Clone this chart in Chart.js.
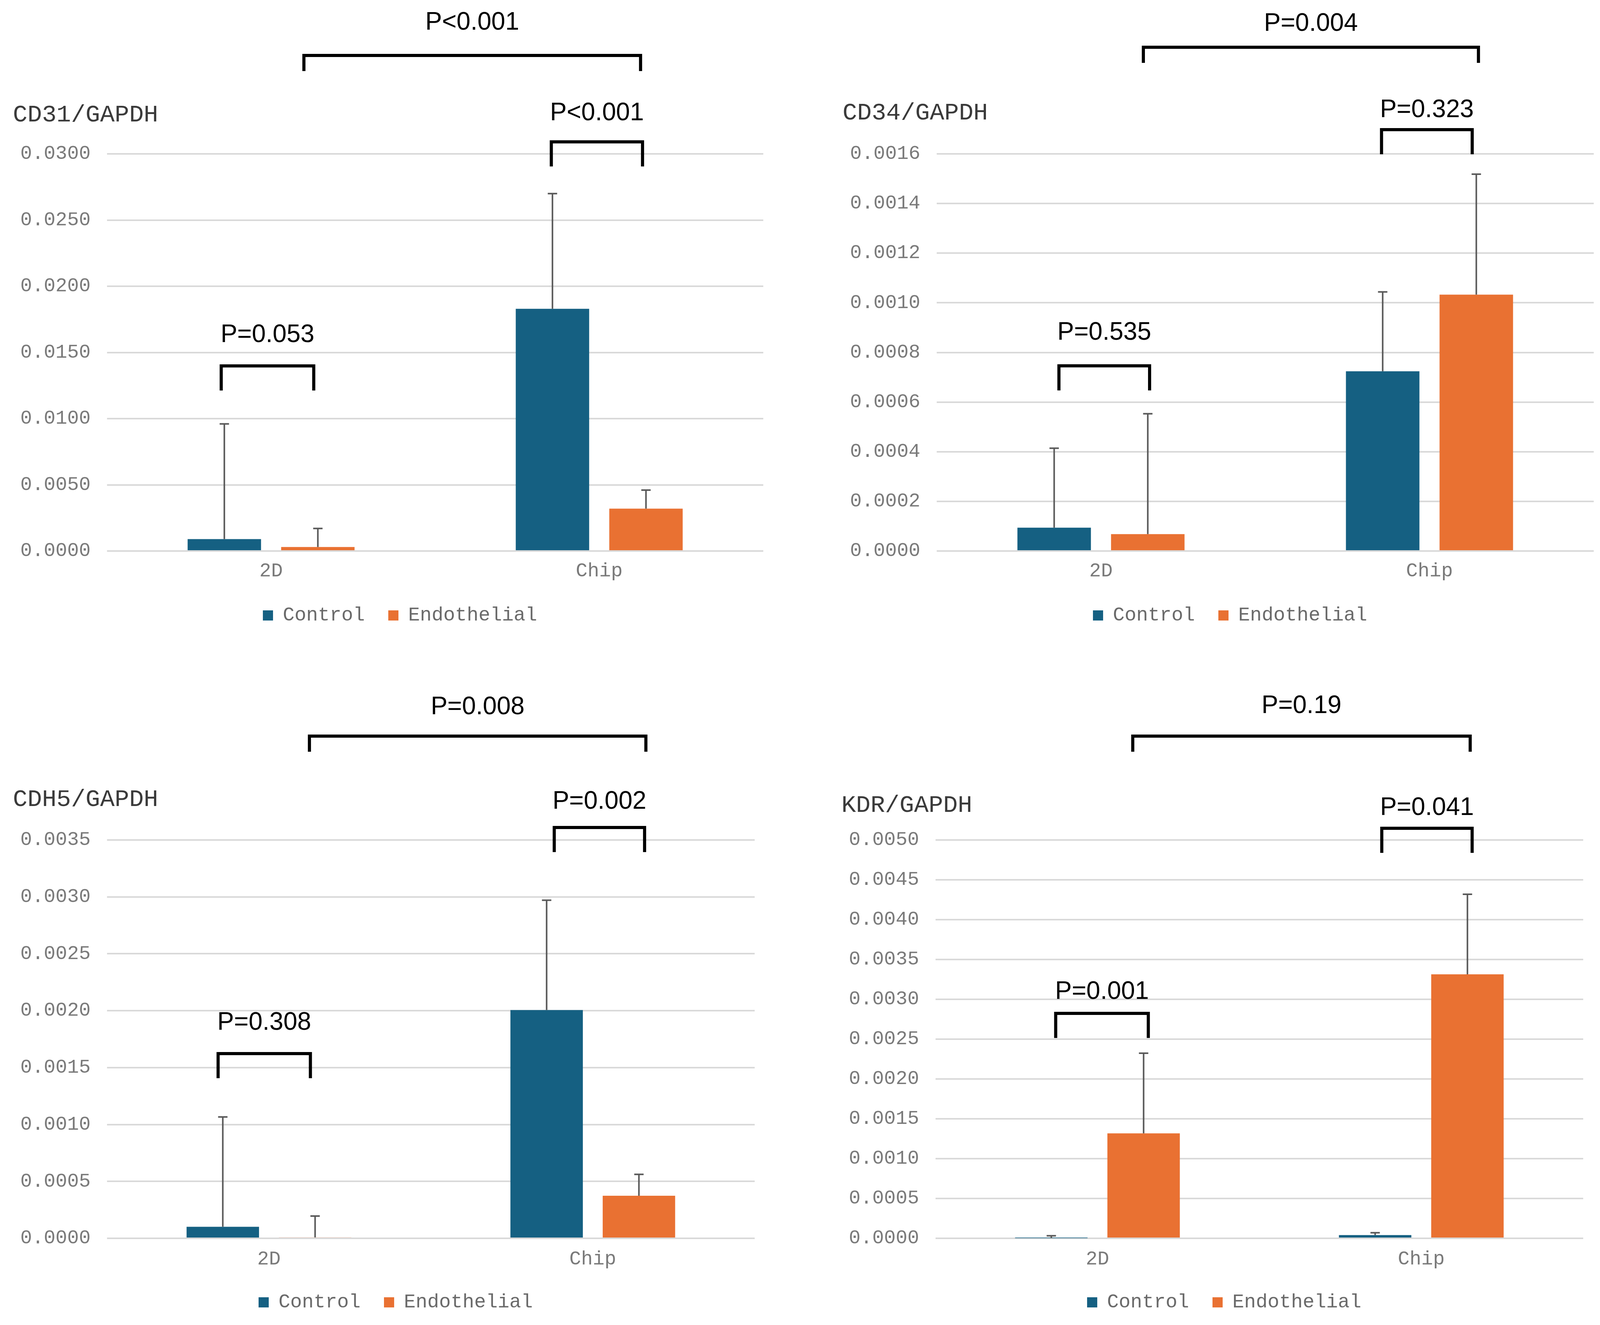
<!DOCTYPE html>
<html>
<head>
<meta charset="utf-8">
<script src="https://cdn.jsdelivr.net/npm/chart.js@4.4.1/dist/chart.umd.min.js"></script>
<style>
  html, body { margin: 0; padding: 0; background: #fff; overflow: hidden; }
  body { width: 4124px; height: 3393px; position: relative; }
  canvas { position: absolute; }
</style>
</head>
<body>
<canvas id="cd31" width="2062" height="1696" style="left:0;top:0"></canvas>
<canvas id="cd34" width="2062" height="1696" style="left:2062px;top:0"></canvas>
<canvas id="cdh5" width="2062" height="1696" style="left:0;top:1697px"></canvas>
<canvas id="kdr" width="2062" height="1696" style="left:2062px;top:1697px"></canvas>
<script>
const categories = ["2D", "Chip"];
const seriesNames = ["Control", "Endothelial"];

// CD31
const cd31Control = [0.0009, 0.0183];
const cd31Endo = [0.0003, 0.0032];
const cd31ControlSd = [0.0087, 0.0087];
const cd31EndoSd = [0.0014, 0.0014];
const cd31Max = 0.03, cd31Step = 0.005;
const cd31P = ["P<0.001", "P<0.001", "P=0.053"];      // overall, Chip, 2D

// CD34
const cd34Control = [0.000094, 0.000724];
const cd34Endo = [0.000068, 0.001033];
const cd34ControlSd = [0.00032, 0.00032];
const cd34EndoSd = [0.000485, 0.000485];
const cd34Max = 0.0016, cd34Step = 0.0002;
const cd34P = ["P=0.004", "P=0.323", "P=0.535"];

// CDH5
const cdh5Control = [0.000101, 0.002006];
const cdh5Endo = [0.000008, 0.000374];
const cdh5ControlSd = [0.000965, 0.000965];
const cdh5EndoSd = [0.000188, 0.000188];
const cdh5Max = 0.0035, cdh5Step = 0.0005;
const cdh5P = ["P=0.008", "P=0.002", "P=0.308"];

// KDR
const kdrControl = [0.000002, 0.00004];
const kdrEndo = [0.001318, 0.003314];
const kdrControlSd = [0.00003, 0.00003];
const kdrEndoSd = [0.001005, 0.001005];
const kdrMax = 0.005, kdrStep = 0.0005;
const kdrP = ["P=0.19", "P=0.041", "P=0.001"];

const COLORS = ["#156082", "#e97132"];
const MONO = "'Liberation Mono', 'Courier New', monospace";

// draws the upward error bars, the p-value brackets, the axis title,
// and moves the legend to where Excel put it
const extrasPlugin = {
    id: "extras",
    afterLayout(chart, args, opts) {
        const lg = chart.legend;
        const c = (chart.chartArea.left + chart.chartArea.right) / 2 - 90;
        const half = (lg.right - lg.left) / 2;
        lg.left = c - half;
        lg.right = c + half;
    },
    afterDatasetsDraw(chart, args, opts) {
        const ctx = chart.ctx;
        const y = chart.scales.y;
        ctx.save();
        ctx.strokeStyle = "#595959";
        ctx.lineWidth = 4;
        chart.data.datasets.forEach((ds, i) => {
            chart.getDatasetMeta(i).data.forEach((bar, j) => {
                const top = y.getPixelForValue(ds.data[j] + ds.sd[j]);
                ctx.beginPath();
                ctx.moveTo(bar.x, bar.y);
                ctx.lineTo(bar.x, top);
                ctx.moveTo(bar.x - 12, top);
                ctx.lineTo(bar.x + 12, top);
                ctx.stroke();
            });
        });
        ctx.restore();
    },
    afterDraw(chart, args, opts) {
        const ctx = chart.ctx;
        const x = chart.scales.x, y = chart.scales.y;
        const x0 = x.getPixelForValue(0), x1 = x.getPixelForValue(1);
        const cx = u => x0 + u * (x1 - x0);
        const legs = [40, 63, 63];
        ctx.save();
        ctx.strokeStyle = "#000";
        ctx.lineWidth = 8;
        ctx.lineJoin = "miter";
        ctx.fillStyle = "#000";
        ctx.font = "64px 'Liberation Sans', Arial, sans-serif";
        ctx.textAlign = "center";
        ctx.textBaseline = "middle";
        opts.pLabels.forEach((label, k) => {
            const a = cx(opts.bracketX[k][0]), b = cx(opts.bracketX[k][1]);
            const by = y.getPixelForValue(opts.bracketY[k]);
            ctx.beginPath();
            ctx.moveTo(a, by + legs[k]);
            ctx.lineTo(a, by);
            ctx.lineTo(b, by);
            ctx.lineTo(b, by + legs[k]);
            ctx.stroke();
            ctx.fillText(label, (a + b) / 2, by - opts.labelGap[k]);
        });
        // axis title, Excel style, above the tick labels
        ctx.fillStyle = "#3a3a3a";
        ctx.font = "62px " + MONO;
        ctx.textAlign = "left";
        ctx.fillText(opts.title, chart.chartArea.left - 241, opts.titleY);
        ctx.restore();
    }
};

function makeChart(id, title, ctrl, endo, ctrlSd, endoSd, max, step, pLabels, lay) {
    return new Chart(document.getElementById(id), {
        type: "bar",
        data: {
            labels: categories,
            datasets: [
                { label: seriesNames[0], data: ctrl, sd: ctrlSd, backgroundColor: COLORS[0] },
                { label: seriesNames[1], data: endo, sd: endoSd, backgroundColor: COLORS[1] }
            ]
        },
        options: {
            responsive: false,
            animation: false,
            devicePixelRatio: 1,
            categoryPercentage: 0.57,
            barPercentage: 0.785,
            layout: { padding: lay.pad },
            scales: {
                x: {
                    grid: { display: false, drawTicks: false },
                    border: { display: false },
                    ticks: { color: "#7a7a7a", font: { family: MONO, size: 50 }, padding: lay.xpad },
                    afterFit: s => { s.height = lay.xh; }
                },
                y: {
                    min: 0,
                    max: max,
                    grid: { color: "#d9d9d9", lineWidth: 4, drawTicks: false },
                    border: { display: false },
                    ticks: {
                        stepSize: step,
                        color: "#7a7a7a",
                        font: { family: MONO, size: 50 },
                        padding: 42,
                        callback: v => v.toFixed(4)
                    },
                    afterFit: s => { s.width = lay.yw; }
                }
            },
            plugins: {
                legend: {
                    position: "bottom",
                    labels: {
                        boxWidth: 26,
                        boxHeight: 26,
                        padding: 60,
                        color: "#6a6a6a",
                        font: { family: MONO, size: 50 }
                    }
                },
                tooltip: { enabled: false },
                extras: {
                    title: title, titleY: lay.titleY, pLabels: pLabels,
                    bracketX: lay.bracketX, bracketY: lay.bracketY, labelGap: lay.labelGap
                }
            }
        },
        plugins: [extrasPlugin]
    });
}

makeChart("cd31", "CD31/GAPDH", cd31Control, cd31Endo, cd31ControlSd, cd31EndoSd, cd31Max, cd31Step, cd31P, {
    pad: { top: 394, bottom: 85, left: 0, right: 108 }, yw: 274, xh: 80, xpad: 22, titleY: 295,
    bracketX: [[0.10, 1.126], [0.854, 1.132], [-0.152, 0.13]],
    bracketY: [0.03743, 0.03091, 0.01398],
    labelGap: [84, 73, 79]
});
makeChart("cd34", "CD34/GAPDH", cd34Control, cd34Endo, cd34ControlSd, cd34EndoSd, cd34Max, cd34Step, cd34P, {
    pad: { top: 394, bottom: 85, left: 0, right: 44 }, yw: 336, xh: 80, xpad: 22, titleY: 290,
    bracketX: [[0.129, 1.149], [0.854, 1.13], [-0.128, 0.148]],
    bracketY: [0.0020295, 0.0016975, 0.000746],
    labelGap: [60, 50, 84]
});
makeChart("cdh5", "CDH5/GAPDH", cdh5Control, cdh5Endo, cdh5ControlSd, cdh5EndoSd, cdh5Max, cdh5Step, cdh5P, {
    pad: { top: 454, bottom: 23, left: 0, right: 130 }, yw: 274, xh: 79, xpad: 24, titleY: 351,
    bracketX: [[0.125, 1.164], [0.881, 1.16], [-0.157, 0.128]],
    bracketY: [0.004413, 0.00361, 0.001623],
    labelGap: [74, 66, 79]
});
makeChart("kdr", "KDR/GAPDH", kdrControl, kdrEndo, kdrControlSd, kdrEndoSd, kdrMax, kdrStep, kdrP, {
    pad: { top: 454, bottom: 23, left: 0, right: 71 }, yw: 333, xh: 79, xpad: 24, titleY: 366,
    bracketX: [[0.109, 1.151], [0.878, 1.157], [-0.129, 0.157]],
    bracketY: [0.006304, 0.005147, 0.002824],
    labelGap: [77, 52, 55]
});
</script>
</body>
</html>
